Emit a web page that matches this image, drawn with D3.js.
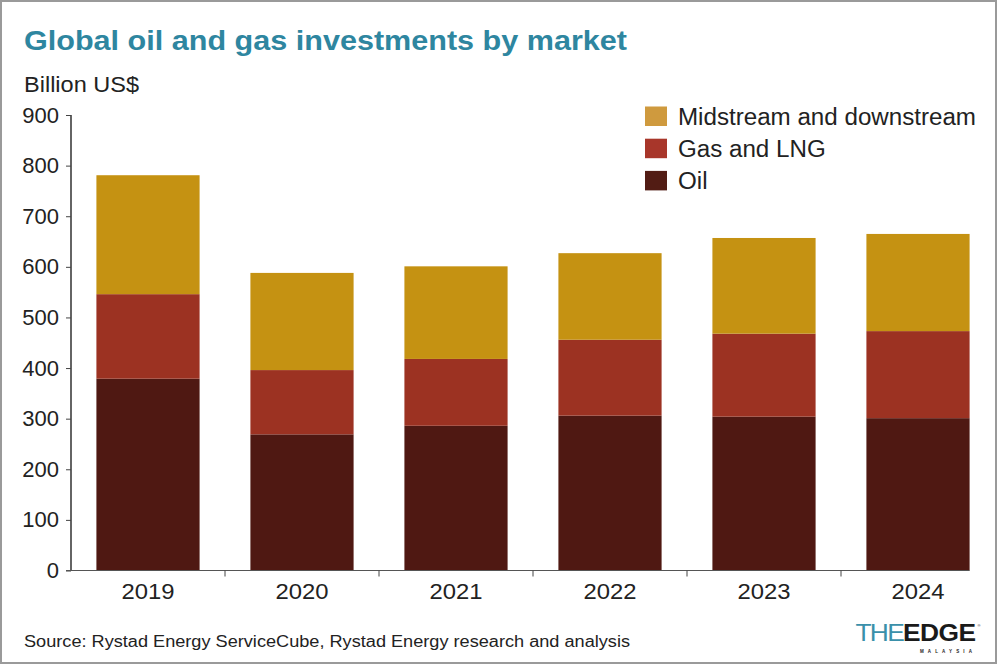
<!DOCTYPE html>
<html>
<head>
<meta charset="utf-8">
<script src="https://cdn.jsdelivr.net/npm/d3@7/dist/d3.min.js"></script>
<style>
  html, body { margin: 0; padding: 0; background: #fff; }
  svg { display: block; }
  text { font-family: "Liberation Sans", Arial, Helvetica, sans-serif; }
</style>
</head>
<body>
<svg id="chart" width="998" height="665"></svg>
<script>
// ---- data ----
const years = ["2019", "2020", "2021", "2022", "2023", "2024"];
const seriesNames = ["Oil", "Gas and LNG", "Midstream and downstream"];
const oil = [379, 269, 286, 306, 304, 301];
const gasLng = [167, 127, 132, 150, 164, 172];
const midDown = [235, 192, 183, 171, 189, 192];
const yTicks = [0, 100, 200, 300, 400, 500, 600, 700, 800, 900];
const barColors = ["#4f1812", "#9c3222", "#c59212"];
const legendColors = ["#521c14", "#a8362a", "#cf9a3e"];

const title = "Global oil and gas investments by market";
const unitLabel = "Billion US$";
const source = "Source: Rystad Energy ServiceCube, Rystad Energy research and analysis";

// ---- build ----
const svg = d3.select("#chart");
const W = 998, H = 665;

svg.append("rect").attr("x", 1).attr("y", 1).attr("width", W - 3).attr("height", H - 3)
  .attr("fill", "#fff").attr("stroke", "#9a9a9a").attr("stroke-width", 2);

const rows = years.map((y, i) => ({ year: y, oil: oil[i], gas: gasLng[i], mid: midDown[i] }));
const keys = ["oil", "gas", "mid"];
const stack = d3.stack().keys(keys)(rows);

const x = d3.scaleBand().domain(years).range([71, 995]).paddingInner(0.33).paddingOuter(0.165);
const y = d3.scaleLinear().domain([0, 900]).range([570.5, 115]);

// bars
svg.append("g").selectAll("g").data(stack).join("g")
  .attr("fill", (d, i) => barColors[i])
  .selectAll("rect").data(d => d).join("rect")
  .attr("x", d => x(d.data.year))
  .attr("width", x.bandwidth())
  .attr("y", d => y(d[1]))
  .attr("height", d => y(d[0]) - y(d[1]));

// y axis
const yAxis = svg.append("g").attr("transform", "translate(71,0)")
  .call(d3.axisLeft(y).tickValues(yTicks).tickSize(5).tickPadding(7).tickFormat(d3.format("d")));
yAxis.select(".domain").attr("stroke", "#111").attr("stroke-width", 1.3).attr("d", "M0,115V570.5");
yAxis.selectAll(".tick line").attr("stroke", "#444");
yAxis.selectAll(".tick text").attr("font-size", 22).attr("fill", "#222")
  .attr("font-family", "Liberation Sans, Arial, sans-serif");

// x axis
const step = x.step();
const xAxis = svg.append("g").attr("transform", "translate(0,570.5)");
xAxis.append("line").attr("x1", 66).attr("x2", x(years[years.length - 1]) + x.bandwidth())
  .attr("stroke", "#555").attr("stroke-width", 1.2);
xAxis.selectAll("line.sep").data(years.slice(1)).join("line").attr("class", "sep")
  .attr("x1", d => x(d) - (step - x.bandwidth()) / 2)
  .attr("x2", d => x(d) - (step - x.bandwidth()) / 2)
  .attr("y1", 0).attr("y2", 6).attr("stroke", "#444").attr("stroke-width", 1);
xAxis.selectAll("text").data(years).join("text")
  .attr("x", d => x(d) + x.bandwidth() / 2)
  .attr("y", 28.5)
  .attr("text-anchor", "middle").attr("font-size", 22.5).attr("fill", "#222")
  .attr("textLength", 53).attr("lengthAdjust", "spacingAndGlyphs")
  .text(d => d);

// title
svg.append("text").attr("x", 24).attr("y", 50).attr("font-size", 27).attr("font-weight", 900)
  .attr("fill", "#2e86a0").attr("textLength", 603).attr("lengthAdjust", "spacingAndGlyphs")
  .text(title);
svg.append("text").attr("x", 24).attr("y", 91.5).attr("font-size", 22).attr("fill", "#222")
  .attr("textLength", 115).attr("lengthAdjust", "spacingAndGlyphs")
  .text(unitLabel);

// legend (top to bottom: mid, gas, oil)
const legendOrder = [2, 1, 0];
const lg = svg.append("g");
const legendTexts = [];
legendOrder.forEach((si, r) => {
  const yy = 106.5 + r * 32.2;
  lg.append("rect").attr("x", 645).attr("y", yy).attr("width", 22).attr("height", 19.5)
    .attr("fill", legendColors[si]);
  legendTexts.push(lg.append("text").attr("x", 678).attr("y", yy + 18.5).attr("font-size", 23.3).attr("fill", "#222")
    .text(seriesNames[si]));
});
const ratio = 298 / legendTexts[0].node().getComputedTextLength();
legendTexts.forEach(t => {
  t.attr("textLength", t.node().getComputedTextLength() * ratio).attr("lengthAdjust", "spacingAndGlyphs");
});

// source
svg.append("text").attr("x", 24).attr("y", 646.5).attr("font-size", 17.3).attr("fill", "#222")
  .attr("textLength", 606).attr("lengthAdjust", "spacingAndGlyphs")
  .text(source);

// logo: one text element with two tspans, horizontally scaled to fit
const logo = svg.append("g");
const logoText = logo.append("text").attr("x", 0).attr("y", 0).attr("font-size", 23)
  .attr("font-family", "DejaVu Sans, sans-serif");
logoText.append("tspan").attr("font-weight", 200).attr("fill", "#3a90aa")
  .attr("letter-spacing", -1.5).text("THE");
logoText.append("tspan").attr("font-weight", 900).attr("fill", "#1a1a1a")
  .attr("letter-spacing", -0.5).text("EDGE");
const lw = logoText.node().getComputedTextLength();
logoText.attr("transform", `translate(855.5,640.7) scale(${120 / lw},1)`);
logo.append("text").attr("x", 920).attr("y", 653).attr("font-size", 4.5)
  .attr("font-weight", 700).attr("fill", "#222").attr("textLength", 52).attr("lengthAdjust", "spacing")
  .text("MALAYSIA");
logo.append("text").attr("x", 977.5).attr("y", 627).attr("font-size", 4).attr("fill", "#222").text("®");
</script>
</body>
</html>
